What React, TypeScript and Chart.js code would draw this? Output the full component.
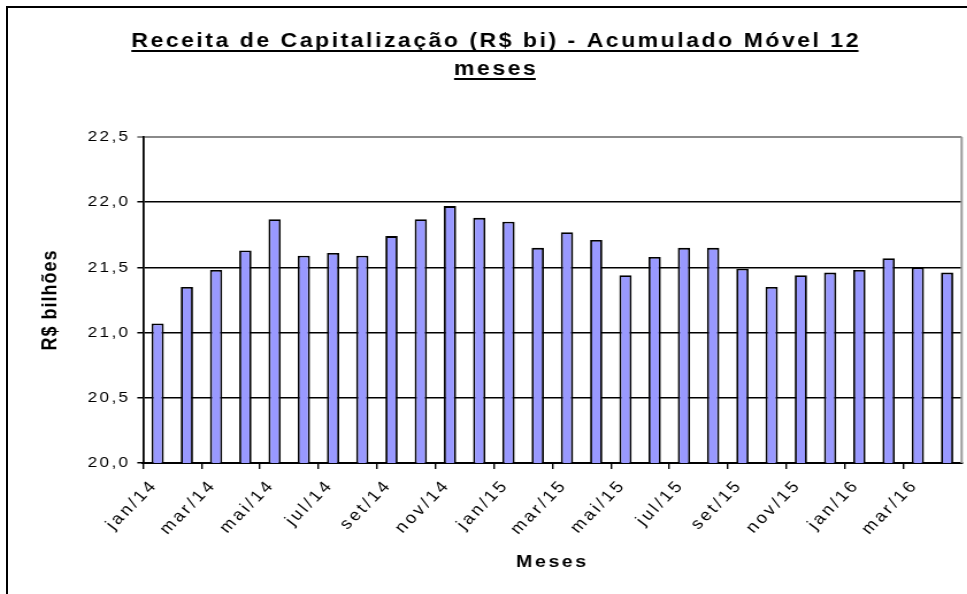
import React, { useEffect, useRef } from 'react';
import { Chart, registerables } from 'chart.js';

Chart.register(...registerables);

const titleLines = ['Receita de Capitalização (R$ bi) - Acumulado Móvel 12', 'meses'];
const yAxisTitle = 'R$ bilhões';
const xAxisTitle = 'Meses';

const months = [
  'jan/14', 'fev/14', 'mar/14', 'abr/14', 'mai/14', 'jun/14', 'jul/14', 'ago/14', 'set/14', 'out/14', 'nov/14', 'dez/14',
  'jan/15', 'fev/15', 'mar/15', 'abr/15', 'mai/15', 'jun/15', 'jul/15', 'ago/15', 'set/15', 'out/15', 'nov/15', 'dez/15',
  'jan/16', 'fev/16', 'mar/16', 'abr/16',
];

const receita = [
  21.07, 21.35, 21.48, 21.63, 21.87, 21.59, 21.61, 21.59, 21.74, 21.87, 21.97, 21.88,
  21.85, 21.65, 21.77, 21.71, 21.44, 21.58, 21.65, 21.65, 21.49, 21.35, 21.44, 21.46,
  21.48, 21.57, 21.50, 21.46,
];

const yMin = 20;
const yMax = 22.5;
const yStep = 0.5;

const FONT = '"Liberation Sans", Arial, sans-serif';
const SX = 1.15; // horizontal stretch of the whole drawing (wide, Excel-like glyphs)
const W_OUT = 976;
const W = Math.round(W_OUT / SX);
const H = 600;

// letter spacing per text element
const SPACING: Record<string, { labels: string; title: string }> = {
  x: { labels: '2.7px', title: '2.2px' },
  y: { labels: '2px', title: '1px' },
};

const spacingPlugin = {
  id: 'spacing',
  beforeUpdate(chart: any) {
    chart.ctx.letterSpacing = '2px';
  },
  beforeDraw(chart: any) {
    chart.ctx.letterSpacing = '0px';
    Object.keys(chart.scales).forEach((id) => {
      const s = chart.scales[id];
      const sp = SPACING[id];
      if (!sp || s.__patched) return;
      s.__patched = true;
      const origLabels = s.drawLabels.bind(s);
      const origTitle = s.drawTitle.bind(s);
      s.drawLabels = (...args: any[]) => {
        const prev = s.ctx.letterSpacing;
        s.ctx.letterSpacing = sp.labels;
        origLabels(...args);
        s.ctx.letterSpacing = prev;
      };
      s.drawTitle = (...args: any[]) => {
        const prev = s.ctx.letterSpacing;
        s.ctx.letterSpacing = sp.title;
        origTitle(...args);
        s.ctx.letterSpacing = prev;
      };
    });
  },
};

const framePlugin = {
  id: 'frame',
  afterDraw(chart: any) {
    const { ctx, chartArea } = chart;
    ctx.save();
    ctx.strokeStyle = '#9a9a9a';
    ctx.lineWidth = 2;
    ctx.beginPath();
    ctx.moveTo(chartArea.right, chartArea.top);
    ctx.lineTo(chartArea.right, chartArea.bottom);
    ctx.stroke();
    const ls = 2.2;
    ctx.letterSpacing = `${ls}px`;
    ctx.font = `bold 20px ${FONT}`;
    ctx.fillStyle = '#000';
    ctx.textAlign = 'center';
    ctx.textBaseline = 'alphabetic';
    const cx = W / 2;
    const baselines = [39, 67];
    titleLines.forEach((line, i) => {
      const b = baselines[i];
      ctx.fillText(line, cx, b);
      const w = ctx.measureText(line).width - ls;
      ctx.fillRect(cx - w / 2 - ls / 2, b + 3, w, 2);
    });
    ctx.restore();
  },
};

function App() {
  const ref = useRef<HTMLCanvasElement | null>(null);
  useEffect(() => {
    if (!ref.current) return;
    const chart = new Chart(ref.current, {
      type: 'bar',
      data: {
        labels: months,
        datasets: [
          {
            label: 'Receita',
            data: receita,
            backgroundColor: '#9999FF',
            borderColor: '#000000',
            borderWidth: 1.8,
            barPercentage: 0.42,
            categoryPercentage: 1,
          },
        ],
      },
      options: {
        responsive: false,
        animation: false,
        devicePixelRatio: 1,
        layout: { padding: { top: 129, right: 19.7, bottom: 0, left: 0 } },
        plugins: {
          legend: { display: false },
          tooltip: { enabled: false },
          title: { display: false },
        },
        scales: {
          x: {
            afterFit: (scale: any) => {
              scale.height = 145;
            },
            border: { display: true, color: '#000', width: 2 },
            grid: {
              offset: true,
              drawOnChartArea: false,
              drawTicks: true,
              tickLength: 6,
              lineWidth: 1.4,
              color: (c: any) => (c.index % 2 === 0 ? '#000' : 'rgba(0,0,0,0)'),
            },
            ticks: {
              autoSkip: false,
              maxRotation: 49,
              minRotation: 49,
              padding: 7,
              labelOffset: -2.5,
              color: '#000',
              font: { family: FONT, size: 16 },
              callback: (_v: any, i: number) => (i % 2 === 0 ? months[i] : ''),
            },
            title: {
              display: true,
              text: xAxisTitle,
              color: '#000',
              font: { family: FONT, size: 17, weight: 'bold' },
              padding: { top: 0, bottom: 35 },
            },
          },
          y: {
            min: yMin,
            max: yMax,
            afterFit: (scale: any) => {
              scale.width = 117.4;
            },
            border: { display: true, color: '#000', width: 1.8 },
            grid: {
              drawTicks: true,
              tickLength: 5,
              lineWidth: (c: any) => (c.tick && c.tick.value === yMax ? 2 : 1.5),
              color: (c: any) => (c.tick && c.tick.value === yMax ? '#8a8a8a' : '#000'),
            },
            ticks: {
              stepSize: yStep,
              padding: 6,
              color: '#000',
              font: { family: FONT, size: 15 },
              callback: (v: any) => Number(v).toFixed(1).replace('.', ','),
            },
            title: {
              display: true,
              text: yAxisTitle,
              color: '#000',
              font: { family: FONT, size: 18, weight: 'bold' },
              padding: { top: 26, bottom: 0 },
            },
          },
        },
      },
      plugins: [spacingPlugin, framePlugin],
    });
    return () => chart.destroy();
  }, []);

  return (
    <div
      style={{
        position: 'fixed',
        left: 6,
        top: 6,
        width: W_OUT + 20,
        height: H + 20,
        border: '2px solid #000',
        background: '#fff',
        boxSizing: 'content-box',
        overflow: 'hidden',
      }}
    >
      <div style={{ width: W, height: H, transform: `scaleX(${SX})`, transformOrigin: '0 0' }}>
        <canvas ref={ref} width={W} height={H} style={{ display: 'block', width: W, height: H }} />
      </div>
    </div>
  );
}

export default App;
